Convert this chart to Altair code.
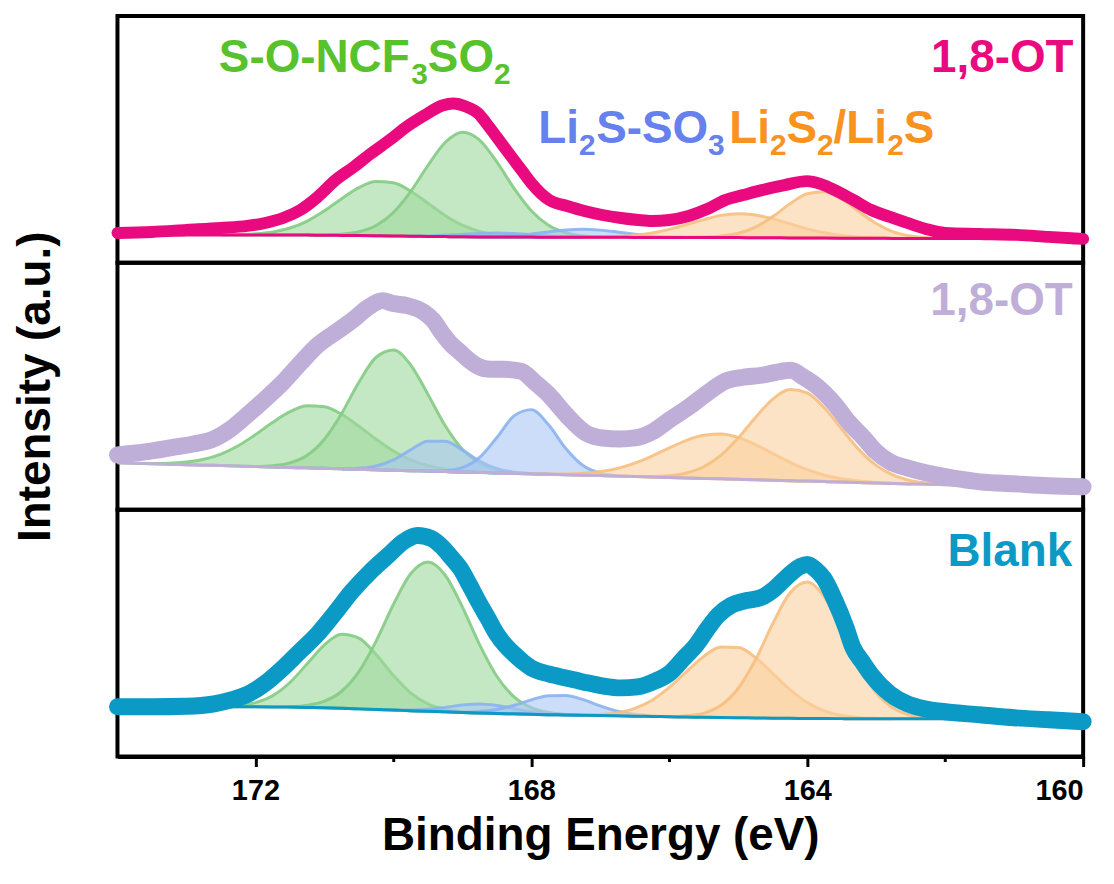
import altair as alt
import pandas as pd

FONT = "Liberation Sans, Arial, sans-serif"

# ---------------- energy grid of the fitted components (eV) ----------------
COMP_E = [174.0, 173.75, 173.5, 173.25, 173.0, 172.75, 172.5, 172.25,
          172.0, 171.75, 171.5, 171.25, 171.0, 170.75, 170.5, 170.25,
          170.0, 169.75, 169.5, 169.25, 169.0, 168.75, 168.5, 168.25,
          168.0, 167.75, 167.5, 167.25, 167.0, 166.75, 166.5, 166.25,
          166.0, 165.75, 165.5, 165.25, 165.0, 164.75, 164.5, 164.25,
          164.0, 163.75, 163.5, 163.25, 163.0, 162.75, 162.5, 162.25,
          162.0, 161.75, 161.5]

# ---------------- top panel : 1,8-OT (pink) ----------------
TOP_ENV_E = [174.0, 173.5, 173.0, 172.5, 172.12, 171.86, 171.6, 171.35, 171.1, 170.84,
             170.58, 170.32, 170.06, 169.8, 169.55, 169.29, 169.13, 168.95, 168.77, 168.64,
             168.51, 168.38, 168.25, 168.12, 168.0, 167.74, 167.48, 167.23, 166.97, 166.7,
             166.45, 166.25, 166.0, 165.72, 165.45, 165.19, 164.93, 164.66, 164.33, 164.0,
             163.8, 163.6, 163.33, 163.07, 162.8, 162.55, 162.28, 162.0, 161.5, 160.96,
             160.5, 160.0]
TOP_ENV_I = [30, 31, 33, 35, 37, 40, 45, 53, 66, 83,
             96, 110, 123, 137, 148, 158, 160, 157, 150, 139,
             127, 115, 103, 91, 80, 63, 57, 52, 48, 45,
             43, 42, 43, 47, 54, 63, 68, 73, 78, 82,
             79, 73, 63, 53, 46, 40, 34, 30, 29, 28,
             26, 24]
TOP_BG = [28, 28, 28, 28, 28, 28, 28, 28,
          28, 28, 27.9, 27.8, 27.7, 27.5, 27.3, 27.1,
          26.9, 26.7, 26.5, 26.3, 26.1, 26.0, 25.9, 25.8,
          25.8, 25.7, 25.7, 25.6, 25.6, 25.6, 25.5, 25.5,
          25.5, 25.5, 25.4, 25.4, 25.3, 25.2, 25.1, 25.0,
          24.9, 24.8, 24.7, 24.6, 24.6, 24.5, 24.5, 24.5,
          24.5, 24.5, 24.5]
TOP_G1 = [0, 0, 0, 0, 0, 0, 0, 0.4,
          1.1, 3.0, 7.0, 14.1, 24.5, 36.9, 48.2, 54.5,
          53.4, 45.4, 33.4, 21.3, 11.7, 5.6, 2.3, 0.8,
          0.2, 0, 0, 0, 0, 0, 0, 0,
          0, 0, 0, 0, 0, 0, 0, 0,
          0, 0, 0, 0, 0, 0, 0, 0,
          0, 0, 0]
TOP_G2 = [0, 0, 0, 0, 0, 0, 0, 0,
          0, 0, 0, 0, 0.3, 1.2, 3.8, 10.4,
          23.6, 44.8, 71.2, 94.5, 105.0, 97.3, 75.4, 48.9,
          26.4, 12.0, 4.5, 1.4, 0.3, 0, 0, 0,
          0, 0, 0, 0, 0, 0, 0, 0,
          0, 0, 0, 0, 0, 0, 0, 0,
          0, 0, 0]
TOP_B1 = [0, 0, 0, 0, 0, 0, 0, 0,
          0, 0, 0, 0, 0, 0, 0, 0,
          0, 0, 0.5, 1.3, 2.4, 3.5, 4.0, 3.5,
          2.4, 1.3, 0.5, 0.1, 0, 0, 0, 0,
          0, 0, 0, 0, 0, 0, 0, 0,
          0, 0, 0, 0, 0, 0, 0, 0,
          0, 0, 0]
TOP_B2 = [0, 0, 0, 0, 0, 0, 0, 0,
          0, 0, 0, 0, 0, 0, 0, 0,
          0, 0, 0, 0, 0, 0, 0.6, 1.5,
          3.2, 5.3, 7.2, 8.0, 7.2, 5.3, 3.2, 1.5,
          0.6, 0.2, 0, 0, 0, 0, 0, 0,
          0, 0, 0, 0, 0, 0, 0, 0,
          0, 0, 0]
TOP_O1 = [0, 0, 0, 0, 0, 0, 0, 0,
          0, 0, 0, 0, 0, 0, 0, 0,
          0, 0, 0, 0, 0, 0, 0, 0,
          0, 0, 0, 0, 0.4, 0.9, 2.2, 4.5,
          8.1, 12.9, 18.0, 22.2, 24.0, 22.8, 19.2, 14.1,
          9.2, 5.3, 2.6, 1.2, 0.5, 0.2, 0, 0,
          0, 0, 0]
TOP_O2 = [0, 0, 0, 0, 0, 0, 0, 0,
          0, 0, 0, 0, 0, 0, 0, 0,
          0, 0, 0, 0, 0, 0, 0, 0,
          0, 0, 0, 0, 0, 0, 0, 0,
          0, 0, 0.4, 1.4, 4.3, 10.7, 21.3, 34.2,
          44.5, 46.6, 39.4, 26.9, 14.8, 6.6, 2.4, 0.7,
          0.2, 0, 0]

# ---------------- middle panel : 1,8-OT (lavender) ----------------
MID_ENV_E = [174.0, 173.6, 173.16, 172.9, 172.64, 172.38, 172.12, 171.86, 171.6, 171.35,
             171.1, 170.84, 170.58, 170.37, 170.16, 170.0, 169.8, 169.55, 169.42, 169.29,
             169.16, 169.03, 168.9, 168.77, 168.6, 168.41, 168.15, 167.95, 167.74, 167.49,
             167.23, 166.97, 166.71, 166.5, 166.25, 166.0, 165.72, 165.45, 165.19, 164.93,
             164.66, 164.45, 164.24, 164.05, 163.86, 163.6, 163.4, 163.18, 163.0, 162.8,
             162.55, 162.28, 161.9, 161.49, 161.0, 160.5, 160.0]
MID_ENV_I = [55, 58, 63, 66, 70, 80, 95, 111, 128, 147,
             165, 178, 191, 203, 210, 207, 205, 198, 190, 177,
             166, 158, 150, 144, 141, 141, 139, 128, 115, 95,
             78, 72, 71, 72, 78, 90, 103, 117, 129, 133,
             135, 138, 140, 133, 124, 106, 88, 72, 58, 48,
             42, 37, 32, 28, 26, 24, 23]
MID_BG = [47.0, 46.5, 46.1, 45.6, 45.2, 44.7, 44.3, 43.8,
          43.3, 42.9, 42.4, 42.0, 41.5, 41.0, 40.6, 40.1,
          39.7, 39.2, 38.8, 38.3, 37.8, 37.4, 36.9, 36.5,
          36.0, 35.5, 35.1, 34.6, 34.2, 33.7, 33.3, 32.8,
          32.3, 31.9, 31.4, 31.0, 30.5, 30.0, 29.6, 29.1,
          28.7, 28.2, 27.8, 27.3, 26.8, 26.4, 25.9, 25.5,
          25.0, 24.5, 24.1]
MID_G1 = [0, 0.1, 0.4, 1.1, 2.7, 5.9, 11.6, 20.4,
          32.1, 44.8, 56.0, 62.3, 61.9, 54.8, 43.3, 30.6,
          19.2, 10.8, 5.4, 2.4, 1.0, 0.3, 0, 0,
          0, 0, 0, 0, 0, 0, 0, 0,
          0, 0, 0, 0, 0, 0, 0, 0,
          0, 0, 0, 0, 0, 0, 0, 0,
          0, 0, 0]
MID_G2 = [0, 0, 0, 0, 0, 0, 0, 0,
          0, 1.3, 4.6, 12.7, 29.3, 55.7, 87.4, 113.0,
          120.7, 106.3, 77.2, 46.3, 22.9, 9.4, 3.1, 0.9,
          0.2, 0, 0, 0, 0, 0, 0, 0,
          0, 0, 0, 0, 0, 0, 0, 0,
          0, 0, 0, 0, 0, 0, 0, 0,
          0, 0, 0]
MID_B1 = [0, 0, 0, 0, 0, 0, 0, 0,
          0, 0, 0, 0, 0, 0, 0.9, 3.7,
          10.4, 20.9, 29.9, 30.5, 22.2, 11.5, 4.3, 1.1,
          0.2, 0, 0, 0, 0, 0, 0, 0,
          0, 0, 0, 0, 0, 0, 0, 0,
          0, 0, 0, 0, 0, 0, 0, 0,
          0, 0, 0]
MID_B2 = [0, 0, 0, 0, 0, 0, 0, 0,
          0, 0, 0, 0, 0, 0, 0, 0,
          0, 0, 0, 0.9, 4.4, 15.1, 35.6, 57.7,
          64.5, 49.7, 26.4, 9.7, 2.4, 0.4, 0, 0,
          0, 0, 0, 0, 0, 0, 0, 0,
          0, 0, 0, 0, 0, 0, 0, 0,
          0, 0, 0]
MID_O1 = [0, 0, 0, 0, 0, 0, 0, 0,
          0, 0, 0, 0, 0, 0, 0, 0,
          0, 0, 0, 0, 0, 0, 0, 0,
          0, 0.3, 0.8, 1.9, 4.1, 7.8, 13.5, 21.1,
          29.7, 37.8, 43.4, 45.0, 42.0, 35.4, 26.9, 18.5,
          11.5, 6.4, 3.2, 1.5, 0.6, 0.2, 0, 0,
          0, 0, 0]
MID_O2 = [0, 0, 0, 0, 0, 0, 0, 0,
          0, 0, 0, 0, 0, 0, 0, 0,
          0, 0, 0, 0, 0, 0, 0, 0,
          0, 0, 0, 0, 0, 0, 0, 0.6,
          1.8, 5.0, 11.7, 23.7, 41.5, 62.6, 81.5, 91.5,
          88.5, 73.9, 53.2, 33.0, 17.7, 8.2, 3.3, 1.1,
          0.3, 0, 0]

# ---------------- bottom panel : Blank (blue) ----------------
BOT_ENV_E = [174.0, 173.5, 173.0, 172.6, 172.35, 172.1, 171.85, 171.6, 171.35, 171.1,
             170.85, 170.6, 170.33, 170.06, 169.85, 169.65, 169.45, 169.3, 169.16, 169.03,
             168.9, 168.77, 168.63, 168.5, 168.38, 168.25, 168.12, 168.0, 167.75, 167.5,
             167.25, 166.97, 166.7, 166.46, 166.2, 165.99, 165.8, 165.6, 165.45, 165.29,
             165.1, 164.93, 164.66, 164.5, 164.3, 164.1, 164.0, 163.88, 163.76, 163.6,
             163.44, 163.34, 163.2, 163.07, 162.8, 162.55, 162.3, 162.0, 161.5, 161.0,
             160.5, 160.0]
BOT_ENV_I = [50, 50, 50.5, 53, 57, 63, 74, 89, 106, 123,
             144, 166, 186, 203, 216, 222, 219, 211, 200, 189,
             173, 156, 139, 123, 112, 103, 95, 89, 83, 79,
             75, 71, 69, 70, 76, 84, 98, 113, 128, 142,
             152, 156, 160, 167, 180, 191, 193, 188, 179, 157,
             130, 110, 95, 82, 63, 53, 48, 45, 42, 39,
             37, 35]
BOT_BG = [50, 50, 50, 50, 50, 50, 50, 50,
          50.0, 49.9, 49.7, 49.4, 49.0, 48.5, 47.9, 47.3,
          46.7, 46.1, 45.5, 44.9, 44.3, 43.8, 43.3, 42.9,
          42.5, 42.1, 41.8, 41.5, 41.2, 40.9, 40.6, 40.3,
          40.0, 39.7, 39.4, 39.2, 39.0, 38.8, 38.6, 38.4,
          38.3, 38.2, 38.1, 38.0, 38.0, 38.0, 38.0, 38.0,
          38.0, 38.0, 38.0]
BOT_G1 = [0, 0, 0, 0, 0, 0, 0, 1.3,
          4.2, 11.3, 24.7, 43.8, 63.3, 74.4, 71.1, 55.2,
          34.9, 17.9, 7.5, 2.6, 0.7, 0, 0, 0,
          0, 0, 0, 0, 0, 0, 0, 0,
          0, 0, 0, 0, 0, 0, 0, 0,
          0, 0, 0, 0, 0, 0, 0, 0,
          0, 0, 0]
BOT_G2 = [0, 0, 0, 0, 0, 0, 0, 0,
          0, 0, 0, 2.1, 6.6, 17.1, 37.4, 68.7,
          106.0, 137.5, 150.0, 137.5, 106.0, 68.7, 37.4, 17.1,
          6.6, 2.1, 0.5, 0, 0, 0, 0, 0,
          0, 0, 0, 0, 0, 0, 0, 0,
          0, 0, 0, 0, 0, 0, 0, 0,
          0, 0, 0]
BOT_B1 = [0, 0, 0, 0, 0, 0, 0, 0,
          0, 0, 0, 0, 0, 0, 0, 0,
          0, 0.7, 2.0, 4.5, 7.4, 9.0, 8.0, 5.2,
          2.5, 0.9, 0.3, 0, 0, 0, 0, 0,
          0, 0, 0, 0, 0, 0, 0, 0,
          0, 0, 0, 0, 0, 0, 0, 0,
          0, 0, 0]
BOT_B2 = [0, 0, 0, 0, 0, 0, 0, 0,
          0, 0, 0, 0, 0, 0, 0, 0,
          0, 0, 0, 0, 0, 1.4, 4.0, 8.6,
          14.5, 19.1, 19.6, 15.7, 9.7, 4.7, 1.8, 0.5,
          0, 0, 0, 0, 0, 0, 0, 0,
          0, 0, 0, 0, 0, 0, 0, 0,
          0, 0, 0]
BOT_O1 = [0, 0, 0, 0, 0, 0, 0, 0,
          0, 0, 0, 0, 0, 0, 0, 0,
          0, 0, 0, 0, 0, 0, 0, 0,
          0, 0, 0, 0, 1.1, 3.2, 7.8, 16.3,
          29.4, 45.7, 61.2, 70.8, 70.6, 60.7, 45.0, 28.8,
          15.9, 7.6, 3.1, 1.1, 0.3, 0, 0, 0,
          0, 0, 0]
BOT_O2 = [0, 0, 0, 0, 0, 0, 0, 0,
          0, 0, 0, 0, 0, 0, 0, 0,
          0, 0, 0, 0, 0, 0, 0, 0,
          0, 0, 0, 0, 0, 0, 0, 0,
          0, 1.2, 4.2, 12.3, 29.6, 58.5, 94.9, 125.9,
          137.0, 122.0, 89.0, 53.2, 26.0, 10.5, 3.4, 0.9,
          0.2, 0, 0]

# ---------------- annotations (text, E, intensity) ----------------
GREEN_MAIN = [("S-O-NCF", 172.53, 192), ("SO", 169.50, 192)]
GREEN_SUB = [("3", 169.74, 180), ("2", 168.54, 180)]
BLUE_MAIN = [("Li", 167.90, 120), ("S-SO", 167.06, 120)]
BLUE_SUB = [("2", 167.31, 108), ("3", 165.44, 108)]
ORANGE_MAIN = [("Li", 165.13, 120), ("S", 164.30, 120), ("/Li", 163.62, 120), ("S", 162.60, 120)]
ORANGE_SUB = [("2", 164.54, 108), ("2", 163.86, 108), ("2", 162.84, 108)]
SAMPLE_TOP = [("1,8-OT", 160.14, 192)]
SAMPLE_MID = [("1,8-OT", 160.15, 196)]
SAMPLE_BOT = [("Blank", 160.16, 191)]

TICKS = [172, 170, 168, 166, 164, 162, 160]

# ---------------- colours ----------------
PINK = "#EA0A80"
LAVENDER = "#BFAFD8"
BLUE = "#0A9AC5"
GREEN_TXT = "#57C22C"
BLUE_TXT = "#6680EE"
ORANGE_TXT = "#F7931E"
GROUP_STYLE = {
    "green": ("#9FD99C", "#84CB84"),
    "blue": ("#A8C7F3", "#8BB2F0"),
    "orange": ("#FBD1A0", "#F6BF80"),
}

PANEL_W = 970
PANEL_H = 248
X_SCALE = alt.Scale(domain=[160, 174], reverse=True, nice=False, zero=False)
Y_SCALE = alt.Scale(domain=[0, PANEL_H], nice=False, zero=False)


def x_enc(show_axis):
    if show_axis:
        axis = alt.Axis(
            values=TICKS,
            labelExpr="datum.value % 4 === 0 ? datum.label : ''",
            tickSize={"condition": {"test": "datum.value % 4 === 0", "value": 10}, "value": 5},
            tickWidth=3, tickColor="black",
            domainColor="black", domainWidth=4,
            grid=False,
            labelFont=FONT, labelFontSize=29, labelFontWeight="bold", labelColor="black",
            labelPadding=10,
            title="Binding Energy (eV)",
            titleFont=FONT, titleFontSize=46, titleFontWeight="bold", titleColor="black",
            titlePadding=8,
        )
        return alt.X("E:Q", scale=X_SCALE, axis=axis)
    return alt.X("E:Q", scale=X_SCALE, axis=None)


def y_axis(show_title):
    if show_title:
        return alt.Axis(title="Intensity (a.u.)", labels=False, ticks=False, domain=False,
                        grid=False, titleFont=FONT, titleFontSize=46, titleFontWeight="bold",
                        titleColor="black", titlePadding=58)
    return None


def comp_frame(bg, comps):
    rows = []
    for name, group, vals in comps:
        n = len(vals)
        for i, v in enumerate(vals):
            pv = vals[i - 1] if i > 0 else 0
            nv = vals[i + 1] if i < n - 1 else 0
            if v == 0 and pv == 0 and nv == 0:
                continue
            rows.append({"E": COMP_E[i], "bg": bg[i], "top": bg[i] + v,
                         "comp": name, "group": group})
    return pd.DataFrame(rows)


def text_layer(items, size, color, align, show_x, show_y):
    df = pd.DataFrame({"t": [a for a, _, _ in items],
                       "E": [b for _, b, _ in items],
                       "I": [c for _, _, c in items]})
    return alt.Chart(df).mark_text(
        align=align, baseline="alphabetic", font=FONT, fontWeight="bold",
        fontSize=size, color=color
    ).encode(x=x_enc(show_x), y=alt.Y("I:Q", scale=Y_SCALE, axis=y_axis(show_y)), text="t:N")


def panel(env_e, env_i, bg, comps, color, env_width, texts, show_x, show_y):
    cdf = comp_frame(bg, comps)
    layers = []
    for grp, (fill, stroke) in GROUP_STYLE.items():
        sub = cdf[cdf["group"] == grp]
        layers.append(
            alt.Chart(sub).mark_area(
                interpolate="monotone", fill=fill, fillOpacity=0.6,
                stroke=stroke, strokeWidth=3, strokeOpacity=0.9
            ).encode(
                x=x_enc(show_x),
                y=alt.Y("top:Q", scale=Y_SCALE, axis=y_axis(show_y)),
                y2="bg:Q",
                detail="comp:N",
            )
        )
    bgdf = pd.DataFrame({"E": COMP_E, "I": bg})
    layers.append(
        alt.Chart(bgdf).mark_line(color=color, strokeWidth=3, interpolate="monotone").encode(
            x=x_enc(show_x), y=alt.Y("I:Q", scale=Y_SCALE, axis=y_axis(show_y))
        )
    )
    envdf = pd.DataFrame({"E": env_e, "I": env_i})
    layers.append(
        alt.Chart(envdf).mark_line(
            color=color, strokeWidth=env_width, interpolate="monotone",
            strokeCap="round", strokeJoin="round"
        ).encode(x=x_enc(show_x), y=alt.Y("I:Q", scale=Y_SCALE, axis=y_axis(show_y)))
    )
    for items, size, col, align in texts:
        layers.append(text_layer(items, size, col, align, show_x, show_y))
    return alt.layer(*layers).properties(width=PANEL_W, height=PANEL_H)


top = panel(
    TOP_ENV_E, TOP_ENV_I, TOP_BG,
    [("g1", "green", TOP_G1), ("g2", "green", TOP_G2),
     ("b1", "blue", TOP_B1), ("b2", "blue", TOP_B2),
     ("o1", "orange", TOP_O1), ("o2", "orange", TOP_O2)],
    PINK, 12,
    [(GREEN_MAIN, 46, GREEN_TXT, "left"), (GREEN_SUB, 30, GREEN_TXT, "left"),
     (BLUE_MAIN, 46, BLUE_TXT, "left"), (BLUE_SUB, 30, BLUE_TXT, "left"),
     (ORANGE_MAIN, 46, ORANGE_TXT, "left"), (ORANGE_SUB, 30, ORANGE_TXT, "left"),
     (SAMPLE_TOP, 46, PINK, "right")],
    False, False,
)
mid = panel(
    MID_ENV_E, MID_ENV_I, MID_BG,
    [("g1", "green", MID_G1), ("g2", "green", MID_G2),
     ("b1", "blue", MID_B1), ("b2", "blue", MID_B2),
     ("o1", "orange", MID_O1), ("o2", "orange", MID_O2)],
    LAVENDER, 17,
    [(SAMPLE_MID, 46, LAVENDER, "right")],
    False, True,
)
bot = panel(
    BOT_ENV_E, BOT_ENV_I, BOT_BG,
    [("g1", "green", BOT_G1), ("g2", "green", BOT_G2),
     ("b1", "blue", BOT_B1), ("b2", "blue", BOT_B2),
     ("o1", "orange", BOT_O1), ("o2", "orange", BOT_O2)],
    BLUE, 17,
    [(SAMPLE_BOT, 46, BLUE, "right")],
    True, False,
)

chart = alt.vconcat(top, mid, bot, spacing=0, bounds="flush").properties(
    padding={"left": 10, "top": 12, "right": 20, "bottom": 10},
    background="white",
).configure_view(stroke="black", strokeWidth=4)

chart.save("out.html", embed_options={"renderer": "svg", "actions": False})
